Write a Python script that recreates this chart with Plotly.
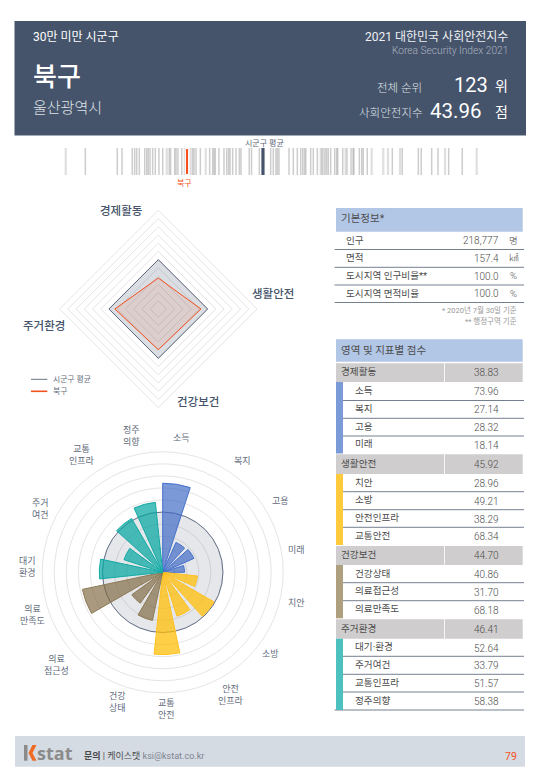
import plotly.graph_objects as go

FONT = "Roboto, 'Noto Sans CJK KR', sans-serif"
W, H = 540, 780

# ---- data ----
region = "북구"
city = "울산광역시"
overall_rank = "123"
overall_score = 43.96
avg_score = 50.0

domains = ["경제활동", "생활안전", "건강보건", "주거환경"]
domain_scores = [38.83, 45.92, 44.70, 46.41]
domain_avg = [50, 50, 50, 50]

groups = [
    ("경제활동", 38.83, ["소득", "복지", "고용", "미래"], [73.96, 27.14, 28.32, 18.14]),
    ("생활안전", 45.92, ["치안", "소방", "안전인프라", "교통안전"], [28.96, 49.21, 38.29, 68.34]),
    ("건강보건", 44.70, ["건강상태", "의료접근성", "의료만족도"], [40.86, 31.70, 68.18]),
    ("주거환경", 46.41, ["대기·환경", "주거여건", "교통인프라", "정주의향"], [52.64, 33.79, 51.57, 58.38]),
]
indicator_values = [73.96, 27.14, 28.32, 18.14, 28.96, 49.21, 38.29, 68.34,
                    40.86, 31.70, 68.18, 52.64, 33.79, 51.57, 58.38]
indicator_angles = [9, 33, 57, 81, 105, 129, 153, 177, 201, 225, 249, 273, 297, 321, 345]
group_strip_colors = ["#7b9bd8", "#ffcb3d", "#aea07f", "#4cc1bf"]
bar_fill = ["rgba(60,104,196,0.68)"] * 4 + ["rgba(255,190,0,0.72)"] * 4 + \
           ["rgba(124,101,60,0.66)"] * 3 + ["rgba(0,165,160,0.7)"] * 4
bar_line = ["#4470cc"] * 4 + ["#ffc020"] * 4 + ["#8d7a55"] * 3 + ["#14aaa5"] * 4

polar_labels = [
    ("소득", 181, 437.7), ("복지", 242.7, 461), ("고용", 280.7, 501), ("미래", 296, 550),
    ("치안", 296, 602.3), ("소방", 270.7, 653.7), ("안전<br>인프라", 230.7, 695),
    ("교통<br>안전", 166.7, 709), ("건강<br>상태", 117.3, 702.3), ("의료<br>접근성", 56.7, 665),
    ("의료<br>만족도", 32.7, 615), ("대기<br>환경", 27.7, 566.7), ("주거<br>여건", 40.7, 509),
    ("교통<br>인프라", 82, 455), ("정주<br>의향", 131.7, 435.7),
]
radar_labels = [("경제활동", 121.7, 211), ("생활안전", 272.7, 294), ("건강보건", 197.7, 402), ("주거환경", 44, 326)]

info_rows = [("인구", "218,777", "명"), ("면적", "157.4", "㎢"),
             ("도시지역 인구비율**", "100.0", "%"), ("도시지역 면적비율", "100.0", "%")]

barcode_scores = [35.88, 38.42, 38.79, 39.61, 39.80, 39.96, 40.17, 40.60, 40.76, 40.88, 41.02,
                  41.23, 41.44, 41.73, 42.03, 42.55, 42.66, 42.98, 43.09, 43.24, 43.54,
                  44.41, 44.52, 44.68, 45.02, 45.76, 46.00, 46.11, 46.21, 46.50, 46.90,
                  47.12, 47.27, 47.38, 47.59, 47.86, 48.12, 48.25, 48.91, 49.09, 49.71,
                  50.61, 50.82, 51.03, 51.15, 51.27, 52.07, 52.41, 52.73, 53.00, 53.16,
                  53.30, 53.40, 53.79, 54.00, 54.32, 54.93, 55.06, 55.19, 55.38, 55.70,
                  55.86, 55.94, 56.34, 57.00, 57.16, 57.23, 57.66, 57.85, 57.97, 58.29,
                  60.28, 61.07, 62.35, 62.58, 63.41, 63.91, 64.76, 65.84]
barcode_light = [34.32, 42.35, 43.78, 44.25, 45.45, 54.59, 54.69, 54.79, 56.57, 56.68,
                 58.64, 59.56, 59.94, 60.89, 64.47, 66.99]

NAVY = "#46546b"
ORANGE = "#f4511e"
GRID = "#e5e5e5"


def px(x):
    return x / W


def py(y):
    return 1 - y / H


shapes, ann = [], []


def rect(x0, y0, x1, y1, color, layer="below"):
    shapes.append(dict(type="rect", xref="paper", yref="paper", x0=px(x0), x1=px(x1), y0=py(y1), y1=py(y0),
                       fillcolor=color, line=dict(width=0), layer=layer))


def hline(x0, x1, y, color, width=1):
    shapes.append(dict(type="line", xref="paper", yref="paper", x0=px(x0), x1=px(x1), y0=py(y), y1=py(y),
                       line=dict(color=color, width=width), layer="below"))


def text(s, x, y, size, color, anchor="left", weight=400):
    nudge = {"left": -2.5, "right": 1.5, "center": 0}[anchor]
    ann.append(dict(text=s, x=px(x + nudge), y=py(y), xref="paper", yref="paper", xanchor=anchor, yanchor="middle",
                    showarrow=False, align=anchor,
                    font=dict(family=FONT, size=size, color=color, weight=weight)))


# ---- header ----
rect(14.5, 21, 526, 135, NAVY)
hline(14.5, 526, 135.5, "#a4acba", 1)
text("30만 미만 시군구", 33.8, 36.7, 12, "#ffffff")
text("2021 대한민국 사회안전지수", 508.5, 36.7, 12, "#eef0f3", "right")
text("Korea Security Index 2021", 508.5, 50.3, 10.2, "#a9b2c0", "right", 300)
text(region, 33.8, 77, 26, "#ffffff", weight=500)
text(city, 33.8, 108, 15, "#dfe3e8", weight=300)
text("전체 순위", 422, 87.5, 11.5, "#dfe3e8", "right", 300)
text("사회안전지수", 422, 113, 11.5, "#dfe3e8", "right", 300)
text(overall_rank, 488, 84.5, 20, "#ffffff", "right")
text("위", 501.7, 85.5, 14, "#ffffff", "center")
text(f"{overall_score:.2f}", 482.8, 111, 20.5, "#ffffff", "right")
text("점", 501.7, 112, 14, "#ffffff", "center")

# ---- barcode ----
X0, X1 = 60, 490
per_px = 1 / 12.58
bar_w = 1.5 * per_px
BAR_TOP, BAR_BOT = 148, 175
traces = [
    go.Bar(x=barcode_light, y=[1] * len(barcode_light), width=[2.2 * per_px] * len(barcode_light),
           marker=dict(color="rgba(170,170,170,0.38)", line=dict(width=0)), showlegend=False,
           hoverinfo="x", xaxis="x", yaxis="y", name="시군구"),
    go.Bar(x=barcode_scores, y=[1] * len(barcode_scores), width=[bar_w] * len(barcode_scores),
           marker=dict(color="rgba(150,150,150,0.48)", line=dict(width=0)), showlegend=False,
           hoverinfo="x", xaxis="x", yaxis="y", name="시군구"),
    go.Bar(x=[overall_score], y=[0.96], base=[0.02], width=[3.2 * per_px],
           marker=dict(color=ORANGE, line=dict(width=1, color="#ffffff")), showlegend=False,
           xaxis="x", yaxis="y", name=region),
    go.Bar(x=[avg_score], y=[1], width=[3.2 * per_px],
           marker=dict(color=NAVY, line=dict(width=0)), showlegend=False,
           xaxis="x", yaxis="y", name="시군구 평균"),
]
ann.append(dict(text="시군구 평균", x=avg_score + 2 * per_px, y=py(142.7), xref="x", yref="paper", showarrow=False,
                yanchor="middle", font=dict(family=FONT, size=8, color="#5a6475")))
ann.append(dict(text=region, x=overall_score - 3 * per_px, y=py(183.5), xref="x", yref="paper", showarrow=False,
                yanchor="middle", font=dict(family=FONT, size=8, color=ORANGE)))

# ---- radar ----
RCX, RCY, RR = 158.3, 309, 98.7
theta_closed = domains + domains[:1]
traces += [
    go.Scatterpolar(r=domain_avg + domain_avg[:1], theta=theta_closed, mode="lines", fill="toself",
                    fillcolor="rgba(70,84,107,0.2)", line=dict(color="#5a6679", width=1),
                    subplot="polar", showlegend=False, name="시군구 평균"),
    go.Scatterpolar(r=domain_scores + domain_scores[:1], theta=theta_closed, mode="lines", fill="toself",
                    fillcolor="rgba(244,81,30,0.1)", line=dict(color=ORANGE, width=1),
                    subplot="polar", showlegend=False, name=region),
]
for s, x, y in radar_labels:
    text(s, x, y, 11.5, NAVY, "center", 500)
hline(31, 47.3, 379.3, "#6a7486", 1)
hline(31, 47.3, 391.3, ORANGE, 1.6)
text("시군구 평균", 53.3, 379.3, 7.8, "#666e7d")
text(region, 53.3, 391.3, 7.8, "#666e7d")

# ---- polar bars ----
PCX, PCY, PR = 162.7, 572.3, 120.5
traces += [
    go.Barpolar(r=[avg_score], theta=[180], width=[360],
                marker=dict(color="rgba(70,84,107,0.14)", line=dict(color="#66718a", width=1)),
                subplot="polar2", showlegend=False, name="시군구 평균"),
    go.Barpolar(r=indicator_values, theta=indicator_angles, width=[18] * len(indicator_values),
                marker=dict(color=bar_fill, line=dict(color=bar_line, width=1)),
                subplot="polar2", showlegend=False, name=region),
]
for s, x, y in polar_labels:
    text(s, x, y, 9, "#626b7b", "center")

# ---- info table ----
TXT = "#4c4c4c"
HEAD = "#b2c6e6"
rect(336, 208, 522.7, 231.7, HEAD)
text("기본정보*", 341.7, 218.5, 10.5, TXT)
row_c = [240, 257.5, 275.5, 293]
row_l = [249.5, 267.3, 285, 302.5]
for (lab, val, unit), c, l in zip(info_rows, row_c, row_l):
    text(lab, 346.7, c, 9.6, TXT)
    text(val, 499.3, c + 0.7, 10, TXT, "right", 300)
    text(unit, 513.7, c, 9.5, TXT, "center", 300)
    hline(334.5, 524, l, "#75808f", 1)
text("* 2020년 7월 30일 기준", 517.7, 310.5, 7.5, "#9a9a9a", "right")
text("** 행정구역 기준", 517.7, 320.5, 7.5, "#9a9a9a", "right")

# ---- score table ----
rect(336, 339.3, 522.7, 361.7, HEAD)
text("영역 및 지표별 점수", 341, 350.3, 10.5, TXT)
group_tops = [363.3, 454.3, 546, 619.3]
group_bots = [382, 474, 565, 638.7]
row_bottoms = [[400.5, 418.3, 436, 453.5], [491.7, 509.7, 527.3, 545],
               [582.7, 600.7, 618.3], [656.3, 674.3, 692, 710]]
for (g, gv, names, vals), color, t, b, bots in zip(groups, group_strip_colors, group_tops, group_bots, row_bottoms):
    rect(336, t, 444.2, b, "#cfcdcd")
    rect(445, t, 522.7, b, "#cfcdcd")
    text(g, 341, (t + b) / 2 - 1, 9.6, TXT)
    text(f"{gv:.2f}", 499.3, (t + b) / 2, 10, TXT, "right", 300)
    top = b
    for n, v, rb in zip(names, vals, bots):
        c = (top + rb) / 2
        text(n, 355, c - 0.8, 9.6, TXT)
        text(f"{v:.2f}", 499.3, c + 0.5, 10, TXT, "right", 300)
        if rb == row_bottoms[-1][-1]:
            hline(334.5, 524, rb, "#75808f", 1)
        elif rb != bots[-1]:
            hline(343, 524, rb, "#75808f", 1)
        top = rb
    rect(336, b, 343, bots[-1], color)

# ---- footer ----
rect(15, 736, 525, 766.7, "#d5dbe3")
rect(24, 745, 27.5, 760.7, "#8b8b8b")
shapes.append(dict(type="path", xref="paper", yref="paper", fillcolor="#ef6a23", line=dict(width=0), layer="below",
                   path="M %f %f L %f %f L %f %f L %f %f L %f %f L %f %f Z" % (
                       px(36.5), py(745), px(32.5), py(745), px(28.5), py(753),
                       px(32.5), py(760.7), px(36.5), py(760.7), px(32.5), py(753))))
ann.append(dict(text="stat", x=px(35), y=py(753), xref="paper", yref="paper", xanchor="left", yanchor="middle",
                showarrow=False, font=dict(family="'Open Sans', sans-serif", size=18, color="#8b8b8b", weight=700)))
text("<b>문의</b> | 케이스탯 <span style='color:#7c8491'>ksi@kstat.co.kr</span>", 84.5, 756, 9, "#4a4a4a")
text("79", 517, 756, 10.5, ORANGE, "right")

fig = go.Figure(traces)
fig.update_layout(
    width=W, height=H, autosize=False, margin=dict(l=0, r=0, t=0, b=0, pad=0),
    paper_bgcolor="#ffffff", plot_bgcolor="rgba(0,0,0,0)", barmode="overlay",
    shapes=shapes, annotations=ann, showlegend=False,
    font=dict(family=FONT),
    xaxis=dict(domain=[px(X0), px(X1)], range=[overall_score + (X0 - 187) * per_px, overall_score + (X1 - 187) * per_px],
               visible=False, fixedrange=True),
    yaxis=dict(domain=[py(BAR_BOT), py(BAR_TOP)], range=[0, 1], visible=False, fixedrange=True),
    polar=dict(
        domain=dict(x=[px(RCX - RR), px(RCX + RR)], y=[py(RCY + RR), py(RCY - RR)]),
        gridshape="linear", bgcolor="rgba(0,0,0,0)",
        angularaxis=dict(type="category", categoryorder="array", categoryarray=domains, direction="clockwise",
                         rotation=90, showgrid=False, showticklabels=False, ticks="", showline=True,
                         linecolor=GRID, linewidth=1),
        radialaxis=dict(range=[20, 80], tick0=20, dtick=5, showticklabels=False, ticks="", showline=False,
                        gridcolor=GRID, gridwidth=1),
    ),
    polar2=dict(
        domain=dict(x=[px(PCX - PR), px(PCX + PR)], y=[py(PCY + PR), py(PCY - PR)]),
        bgcolor="rgba(0,0,0,0)",
        angularaxis=dict(direction="clockwise", rotation=90, showgrid=False, showticklabels=False, ticks="",
                         showline=True, linecolor=GRID, linewidth=1),
        radialaxis=dict(range=[0, 100], tick0=0, dtick=10, showticklabels=False, ticks="", showline=False,
                        gridcolor=GRID, gridwidth=1),
    ),
)
fig.write_html("out.html", config=dict(displayModeBar=False),
               post_script="document.body.style.margin='0';document.body.style.overflow='hidden';")
